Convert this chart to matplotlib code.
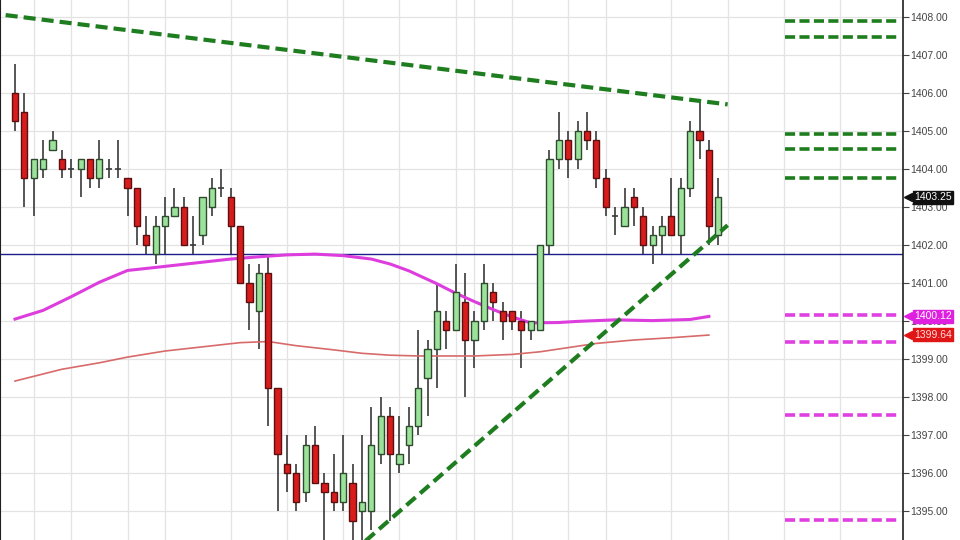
import matplotlib
matplotlib.use("Agg")
import matplotlib.pyplot as plt
import matplotlib.transforms as mtransforms
import numpy as np

# ---------------- data ----------------
opens = [1406.0, 1405.5, 1403.75, 1404.0, 1404.5, 1404.25, 1404.0, 1404.0, 1404.25, 1403.75,
         1404.0, 1404.0, 1403.75, 1403.5, 1402.25, 1401.75, 1402.5, 1402.75, 1403.0, 1402.0,
         1402.25, 1403.0, 1403.5, 1403.25, 1402.5, 1401.0, 1400.25, 1401.25, 1398.25, 1396.25,
         1396.0, 1395.5, 1396.75, 1395.75, 1395.5, 1395.25, 1395.75, 1395.0, 1395.0, 1396.5,
         1397.5, 1396.25, 1396.75, 1397.25, 1398.5, 1399.25, 1400.0, 1399.75, 1400.5, 1399.5,
         1400.0, 1400.75, 1400.25, 1400.25, 1400.0, 1399.75, 1399.75, 1402.0, 1404.25, 1404.75,
         1404.25, 1405.0, 1404.75, 1403.75, 1402.75, 1402.5, 1403.25, 1402.75, 1402.0, 1402.25,
         1402.75, 1402.25, 1403.5, 1405.0, 1404.5, 1402.25]
highs = [1406.75, 1406.0, 1404.25, 1404.75, 1405.0, 1404.5, 1404.25, 1404.25, 1404.25, 1404.75,
         1404.25, 1404.75, 1403.75, 1403.5, 1402.75, 1402.75, 1403.25, 1403.5, 1403.25, 1402.75,
         1403.25, 1403.75, 1404.0, 1403.5, 1402.5, 1401.5, 1401.5, 1401.75, 1398.25, 1397.0,
         1396.25, 1397.0, 1397.25, 1396.0, 1396.5, 1397.0, 1396.25, 1397.0, 1397.75, 1398.0,
         1397.75, 1397.5, 1397.75, 1399.75, 1399.5, 1401.0, 1400.25, 1401.5, 1401.25, 1400.25,
         1401.5, 1401.0, 1400.5, 1400.25, 1400.25, 1400.0, 1402.0, 1404.5, 1405.5, 1405.0,
         1405.25, 1405.5, 1405.0, 1404.0, 1403.0, 1403.5, 1403.5, 1403.0, 1402.5, 1402.75,
         1403.75, 1403.75, 1405.25, 1405.75, 1404.75, 1403.75]
lows = [1405.0, 1403.0, 1402.75, 1403.75, 1404.5, 1403.75, 1403.75, 1403.25, 1403.5, 1403.5,
        1403.75, 1403.75, 1402.75, 1402.0, 1401.75, 1401.5, 1401.75, 1402.75, 1402.0, 1401.75,
        1402.0, 1402.75, 1403.25, 1401.75, 1401.0, 1399.75, 1399.25, 1397.25, 1395.0, 1395.5,
        1395.0, 1395.25, 1395.75, 1394.0, 1395.0, 1395.0, 1394.0, 1394.0, 1394.5, 1396.25,
        1394.75, 1396.0, 1396.25, 1397.0, 1397.5, 1398.25, 1399.25, 1399.75, 1398.0, 1398.75,
        1399.75, 1400.0, 1399.5, 1399.75, 1398.75, 1399.5, 1399.75, 1401.75, 1404.0, 1403.75,
        1404.0, 1404.5, 1403.5, 1402.75, 1402.25, 1402.5, 1402.5, 1401.75, 1401.5, 1401.75,
        1402.25, 1401.75, 1403.25, 1404.25, 1402.0, 1402.0]
closes = [1405.25, 1403.75, 1404.25, 1404.25, 1404.75, 1404.0, 1404.0, 1404.25, 1403.75, 1404.25,
          1404.0, 1404.0, 1403.5, 1402.5, 1402.0, 1402.5, 1402.75, 1403.0, 1402.0, 1402.0,
          1403.25, 1403.5, 1403.5, 1402.5, 1401.0, 1400.5, 1401.25, 1398.25, 1396.5, 1396.0,
          1395.25, 1396.75, 1395.75, 1395.5, 1395.25, 1396.0, 1394.75, 1395.25, 1396.75, 1397.5,
          1396.5, 1396.5, 1397.25, 1398.25, 1399.25, 1400.25, 1399.75, 1400.75, 1399.5, 1400.0,
          1401.0, 1400.5, 1400.0, 1400.0, 1399.75, 1400.0, 1402.0, 1404.25, 1404.75, 1404.25,
          1405.0, 1404.75, 1403.75, 1403.0, 1402.75, 1403.0, 1403.0, 1402.0, 1402.25, 1402.5,
          1402.25, 1403.5, 1405.0, 1404.75, 1402.5, 1403.25]

# moving averages (bar index, price)
ma_fast_idx = [0, 3, 6, 9, 12, 15, 19, 23, 26, 29, 32, 35, 38, 40, 42, 45, 47, 49, 51, 53,
               55, 58, 60, 64, 68, 72, 74]
ma_fast_val = [1400.05, 1400.28, 1400.64, 1401.02, 1401.33, 1401.41, 1401.52, 1401.63, 1401.69,
               1401.74, 1401.76, 1401.72, 1401.63, 1401.50, 1401.32, 1400.98, 1400.73, 1400.51,
               1400.30, 1400.11, 1399.95, 1399.96, 1399.99, 1400.03, 1400.01, 1400.04, 1400.12]
ma_slow_idx = [0, 5, 9, 12, 16, 20, 24, 27, 30, 34, 37, 40, 43, 49, 53, 56, 59, 62, 66, 70, 74]
ma_slow_val = [1398.42, 1398.73, 1398.90, 1399.05, 1399.21, 1399.32, 1399.43, 1399.46, 1399.35,
               1399.24, 1399.15, 1399.10, 1399.08, 1399.08, 1399.12, 1399.19, 1399.30, 1399.41,
               1399.50, 1399.56, 1399.63]

# trend lines (bar index, price)
upper_trend_idx = [-1.0, 76.0]
upper_trend_val = [1408.05, 1405.70]
lower_trend_idx = [35.0, 76.0]
lower_trend_val = [1393.70, 1402.52]

support_level = 1401.75
green_levels = [1407.90, 1407.48, 1404.93, 1404.53, 1403.76]
magenta_levels = [1400.15, 1399.45, 1397.52, 1394.76]

last_price = 1403.25
fast_last = 1400.12
slow_last = 1399.64

yticks = [1395, 1396, 1397, 1398, 1399, 1400, 1401, 1402, 1403, 1404, 1405, 1406, 1407, 1408]
vgrid_idx = [2, 6, 12, 16, 23, 29, 35, 41, 47, 49, 53, 59, 63, 70, 76, 82, 88]

# ---------------- figure ----------------
plt.rcParams['font.family'] = ['Liberation Sans', 'DejaVu Sans']
fig = plt.figure(figsize=(9.6, 5.4), dpi=100)
fig.patch.set_facecolor('white')
ax = fig.add_axes([0.0, 0.0, 903 / 960, 1.0])
ax.set_facecolor('white')

ax.set_xlim(-1.6, 94.7)
ax.set_ylim(1394.237, 1408.447)

# grid
for yv in yticks:
    ax.axhline(yv, color='#e3e3e3', lw=0.9, zorder=0)
for xv in vgrid_idx:
    ax.axvline(xv, color='#e3e3e3', lw=0.9, zorder=0)

# candles
x = np.arange(len(opens))
o = np.array(opens); c = np.array(closes); h = np.array(highs); l = np.array(lows)
up = c >= o
ax.vlines(x, l, h, color='#3a3a3a', lw=1.2, zorder=2)
body_bottom = np.minimum(o, c)
body_h = np.abs(c - o)
colors = np.where(up, '#9be29b', '#d81c1c')
edges = np.where(up, '#2f4a2f', '#5a1010')
for xi, b, hh, fc, ec in zip(x, body_bottom, body_h, colors, edges):
    if hh == 0:
        ax.hlines(b, xi - 0.33, xi + 0.33, color='#3a3a3a', lw=1.2, zorder=3)
    else:
        ax.bar(xi, hh, bottom=b, width=0.66, color=fc, edgecolor=ec, linewidth=1.0, zorder=3)

# moving averages
ax.plot(ma_slow_idx, ma_slow_val, color='#d86a6a', lw=1.2, zorder=2.5)
ax.plot(ma_fast_idx, ma_fast_val, color='#dd3ddd', lw=2.2, zorder=2.6)

# support line
ax.axhline(support_level, color='#1c1c8a', lw=1.0, zorder=1.5)

# trend lines
ax.plot(upper_trend_idx, upper_trend_val, color='#1e7d1e', lw=3.0, ls=(0, (2.9, 1.45)), zorder=4)
ax.plot(lower_trend_idx, lower_trend_val, color='#1e7d1e', lw=3.0, ls=(0, (2.9, 1.45)), zorder=4)

# right-side levels
ax.hlines(green_levels, 82.1, 94.4, color='#1e7d1e', lw=2.6, linestyles=[(0, (2.8, 1.2))], zorder=4)
ax.hlines(magenta_levels, 82.1, 94.4, color='#e040e0', lw=2.6, linestyles=[(0, (2.8, 1.2))], zorder=4)

# axes styling
for s in ['top', 'bottom']:
    ax.spines[s].set_visible(False)
ax.spines['right'].set_color('#202020')
ax.spines['left'].set_color('#202020')
ax.spines['right'].set_linewidth(1.2)
ax.set_xticks([])
ax.yaxis.tick_right()
ax.set_yticks(yticks)
ax.set_yticklabels([f'{v:.2f}' for v in yticks])
ax.tick_params(axis='y', direction='out', length=4, width=0.8, colors='#444444',
               labelsize=7.5, pad=1.5)

# price tags
trans = mtransforms.blended_transform_factory(ax.transAxes, ax.transData)
for val, bg, fg in [(last_price, '#111111', 'white'), (fast_last, '#e020e0', 'white'),
                    (slow_last, '#e01515', '#ffdede')]:
    ax.plot([1.006], [val], marker='<', ms=6, color=bg, transform=trans, clip_on=False, zorder=6)
    ax.text(1.012, val, f'{val:.2f}', transform=trans, color=fg, fontsize=7.5, va='center',
            ha='left', zorder=7, clip_on=False,
            bbox=dict(boxstyle='square,pad=0.12', fc=bg, ec=bg))

fig.savefig('out.png', dpi=100, facecolor='white')
